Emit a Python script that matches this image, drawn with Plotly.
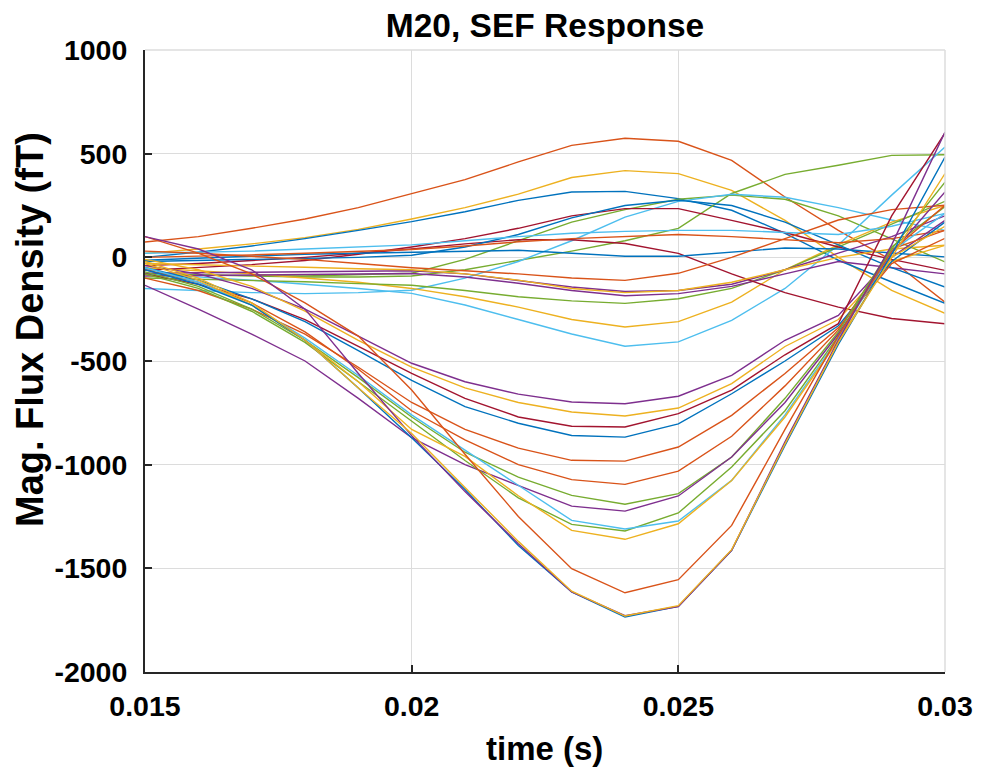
import plotly.graph_objects as go

# time axis (s), samples every 1 ms
time_s = [0.015, 0.016, 0.017, 0.018, 0.019, 0.020, 0.021, 0.022,
          0.023, 0.024, 0.025, 0.026, 0.027, 0.028, 0.029, 0.030]

# ---- near-zero channels (fT) ----
orange_arc   = [74, 100, 140, 185, 240, 307, 375, 460, 540, 574, 560, 468, 291, 130, -14, -216]
yellow_arc   = [19, 40, 65, 95, 135, 185, 240, 305, 385, 418, 404, 323, 178, 0, -159, -270]
blue_arc     = [0, 25, 55, 90, 130, 172, 220, 275, 315, 318, 283, 227, 116, -14, -119, -222]
green_plateau = [-80, -85, -90, -95, -95, -90, -60, -15, 30, 80, 140, 308, 400, 444, 492, 495]
green_hump   = [-80, -85, -88, -90, -85, -77, -10, 80, 170, 230, 280, 300, 280, 200, 90, -22]
cyan_hump    = [-150, -160, -170, -175, -170, -159, -100, -20, 80, 194, 270, 304, 290, 240, 180, 130]
cyan_dip     = [-80, -95, -110, -130, -150, -174, -230, -300, -370, -429, -408, -304, -150, 60, 300, 532]
yellow_dip   = [-50, -65, -80, -100, -120, -150, -190, -240, -300, -336, -310, -216, -60, 60, 170, 250]
green_dip    = [-100, -105, -110, -118, -127, -135, -160, -190, -210, -222, -200, -150, -60, 50, 160, 270]
purple_b1    = [-77, -75, -72, -70, -68, -65, -80, -110, -143, -165, -160, -130, -60, 20, 100, 200]
purple_b2    = [-90, -88, -85, -82, -80, -78, -95, -125, -160, -185, -175, -140, -80, -20, -50, -80]
darkred_fall = [-40, -30, -15, 0, 20, 40, 65, 85, 85, 67, 19, -80, -170, -240, -295, -320]
darkred_arc  = [-63, -50, -35, -15, 15, 50, 90, 140, 200, 235, 235, 178, 120, 50, -10, -63]
blue_rise    = [-20, -15, -10, -5, 0, 10, 50, 110, 190, 250, 275, 250, 170, 60, -50, -143]
blue_flat    = [-14, -5, 5, 15, 20, 25, 30, 34, 20, 5, 5, 25, 45, 40, 20, 2]
cyan_flat    = [20, 25, 30, 40, 50, 60, 80, 100, 116, 125, 130, 130, 120, 110, 150, 212]
orange_flat  = [0, 5, 12, 20, 28, 38, 55, 75, 90, 100, 110, 100, 85, 70, 90, 130]
orange_rise  = [30, 20, 5, -10, -30, -50, -65, -80, -100, -111, -77, 0, 90, 180, 230, 251]
yellow_flat  = [-30, -35, -40, -48, -55, -60, -80, -110, -150, -170, -160, -120, -60, 0, 40, 58]

# ---- channels with the strong negative deflection (fT) ----
purple_706   = [-40, -80, -150, -250, -380, -511, -600, -660, -698, -706, -670, -569, -400, -280, 0, 178]
yellow_765   = [-10, -60, -140, -260, -400, -530, -630, -700, -746, -765, -727, -609, -430, -300, -20, 58]
darkred_818  = [-80, -130, -200, -300, -430, -560, -680, -770, -815, -818, -754, -640, -470, -320, 200, 600]
blue_867     = [-50, -110, -200, -310, -450, -593, -720, -800, -859, -867, -803, -658, -500, -330, -20, 170]
orange_983   = [-100, -160, -250, -370, -530, -700, -830, -920, -979, -983, -915, -762, -560, -340, -30, 92]
orange_1095  = [-60, -120, -220, -360, -540, -740, -880, -1000, -1072, -1095, -1031, -863, -620, -350, 40, 130]
green_1191   = [-70, -140, -250, -400, -580, -770, -940, -1060, -1148, -1191, -1140, -963, -680, -360, 50, 245]
purple_1224  = [-135, -250, -370, -500, -680, -870, -1000, -1100, -1200, -1224, -1151, -963, -700, -370, 20, 315]
green_1320   = [-80, -150, -260, -410, -600, -790, -980, -1160, -1288, -1320, -1233, -1011, -740, -380, 40, 363]
cyan_1310    = [-50, -120, -230, -390, -570, -760, -930, -1100, -1269, -1310, -1272, -1076, -760, -390, 30, 212]
yellow_1360  = [-30, -110, -230, -400, -600, -830, -960, -1150, -1317, -1360, -1285, -1076, -770, -400, 0, 150]
orange_1618  = [100, 20, -80, -220, -380, -640, -950, -1250, -1502, -1618, -1555, -1293, -830, -380, 30, 251]
blue_1735    = [-60, -130, -230, -400, -630, -870, -1120, -1390, -1614, -1735, -1684, -1413, -907, -420, 14, 484]
purple_1728  = [100, 40, -60, -250, -560, -860, -1130, -1381, -1614, -1728, -1684, -1413, -890, -400, 60, 604]
yellow_1730  = [-20, -100, -220, -400, -630, -850, -1110, -1370, -1610, -1730, -1680, -1410, -900, -410, 0, 404]

BLUE, ORANGE, YELLOW, PURPLE = "#0072BD", "#D95319", "#EDB120", "#7E2F8E"
GREEN, CYAN, DARKRED = "#77AC30", "#4DBEEE", "#A2142F"

series = [
    (orange_arc, ORANGE), (yellow_arc, YELLOW), (blue_arc, BLUE),
    (green_plateau, GREEN), (green_hump, GREEN), (cyan_hump, CYAN),
    (cyan_dip, CYAN), (yellow_dip, YELLOW), (green_dip, GREEN),
    (purple_b1, PURPLE), (purple_b2, PURPLE), (darkred_fall, DARKRED),
    (darkred_arc, DARKRED), (blue_rise, BLUE), (blue_flat, BLUE),
    (cyan_flat, CYAN), (orange_flat, ORANGE), (orange_rise, ORANGE),
    (yellow_flat, YELLOW),
    (purple_706, PURPLE), (yellow_765, YELLOW), (darkred_818, DARKRED),
    (blue_867, BLUE), (orange_983, ORANGE), (orange_1095, ORANGE),
    (green_1191, GREEN), (purple_1224, PURPLE), (green_1320, GREEN),
    (cyan_1310, CYAN), (yellow_1360, YELLOW), (orange_1618, ORANGE),
    (blue_1735, BLUE), (purple_1728, PURPLE), (yellow_1730, YELLOW),
]

x_ticks = [0.015, 0.02, 0.025, 0.03]
x_tick_text = ["0.015", "0.02", "0.025", "0.03"]
y_ticks = [-2000, -1500, -1000, -500, 0, 500, 1000]
y_tick_text = ["-2000", "-1500", "-1000", "-500", "0", "500", "1000"]

fig = go.Figure()
for vals, col in series:
    fig.add_trace(go.Scatter(x=time_s, y=vals, mode="lines",
                             line=dict(color=col, width=1.4),
                             showlegend=False, hoverinfo="skip"))

FONT = "Liberation Sans, Arial, sans-serif"
AX = "#262626"
GRID = "#DCDCDC"

# page body adds an 8px offset; plot area lands at x 145-945, y 50-672 on the page
fig.update_layout(
    width=974, height=764,
    margin=dict(l=137, r=37, t=42, b=100),
    paper_bgcolor="white", plot_bgcolor="white",
    font=dict(family=FONT, color="black"),
    title=dict(text="M20, SEF Response", x=0.5, xref="paper", xanchor="center",
               y=1 - 17 / 764, yanchor="middle",
               font=dict(size=33.5, family=FONT, weight="bold", color="black")),
)
fig.update_xaxes(range=[0.015, 0.03], tickvals=x_ticks, ticktext=x_tick_text,
                 automargin=False,
                 showgrid=True, gridcolor=GRID, gridwidth=1,
                 showline=True, linecolor=AX, linewidth=2,
                 ticks="inside", ticklen=7, tickcolor=AX, tickwidth=1.5,
                 tickfont=dict(size=28.5, family=FONT, weight="bold", color="black"),
                 ticklabelstandoff=8, zeroline=False)
fig.update_yaxes(range=[-2000, 1000], tickvals=y_ticks, ticktext=y_tick_text,
                 automargin=False,
                 showgrid=True, gridcolor=GRID, gridwidth=1,
                 showline=True, linecolor=AX, linewidth=2,
                 ticks="inside", ticklen=7, tickcolor=AX, tickwidth=1.5,
                 tickfont=dict(size=28.5, family=FONT, weight="bold", color="black"),
                 ticklabelstandoff=10, zeroline=False)

# light box on top and right
fig.add_shape(type="line", xref="paper", yref="paper", x0=0, x1=1, y0=1, y1=1,
              line=dict(color=GRID, width=1.5))
fig.add_shape(type="line", xref="paper", yref="paper", x0=1, x1=1, y0=0, y1=1,
              line=dict(color=GRID, width=1.5))

fig.add_annotation(text="time (s)", xref="paper", yref="paper",
                   x=0.499, y=-76 / 622, xanchor="center", yanchor="middle",
                   showarrow=False,
                   font=dict(size=33, family=FONT, weight="bold", color="black"))
fig.add_annotation(text="Mag. Flux Density (fT)", xref="paper", yref="paper",
                   x=-115 / 800, y=(672 - 330) / 622, xanchor="center", yanchor="middle",
                   textangle=-90, showarrow=False,
                   font=dict(size=38, family=FONT, weight="bold", color="black"))

fig.write_html("out.html")
